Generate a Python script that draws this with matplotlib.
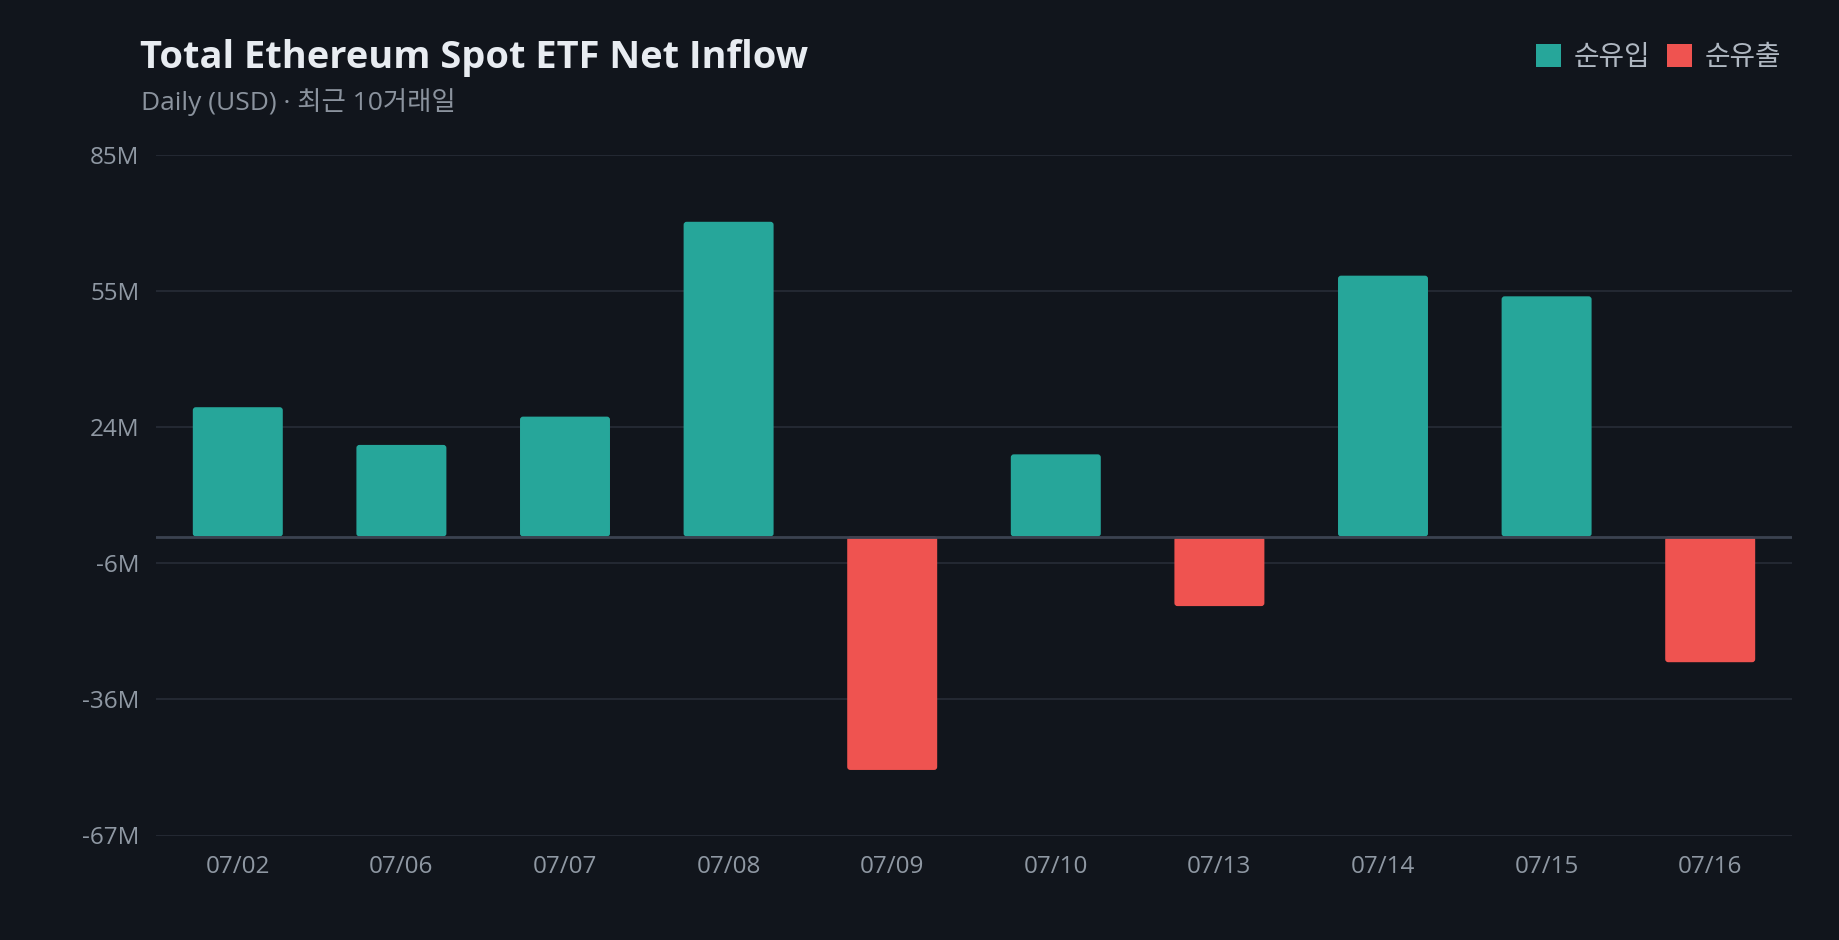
import matplotlib
matplotlib.use("Agg")
import matplotlib.pyplot as plt
from matplotlib.patches import FancyBboxPatch, Patch
import numpy as np

# ---- data ----
dates = ["07/02", "07/06", "07/07", "07/08", "07/09", "07/10", "07/13", "07/14", "07/15", "07/16"]
net_flow_m = [28.8, 20.4, 26.7, 70.1, -52.0, 18.3, -15.5, 58.1, 53.5, -28.0]
y_min, y_max = -66.6, 85.0
title = "Total Ethereum Spot ETF Net Inflow"
subtitle = "Daily (USD) · 최근 10거래일"
legend_labels = ["순유입", "순유출"]

# ---- style ----
BG = "#11151c"
TEAL = "#26a69a"
RED = "#ef5350"
GRID = "#262b35"
ZERO = "#3b4250"
TICK = "#8f98a3"
LATIN = "Open Sans"
CJK = "Noto Sans CJK KR"
FAM = [LATIN, CJK, "DejaVu Sans"]
plt.rcParams["font.family"] = FAM

W, H, DPI = 1840, 940, 100
fig = plt.figure(figsize=(W / DPI, H / DPI), dpi=DPI, facecolor=BG)
left, right = 156 / W, 1792 / W
top, bottom = 1 - 154.9 / H, 1 - 835.5 / H
ax = fig.add_axes([left, bottom, right - left, top - bottom], facecolor=BG)

x = np.arange(len(dates))
colors = [TEAL if v >= 0 else RED for v in net_flow_m]
bars = ax.bar(x, net_flow_m, width=0.55, color=colors, zorder=3)

ax.set_xlim(-0.5, len(dates) - 0.5)
ax.set_ylim(y_min, y_max)

# rounded corners for bars
ax_w_px = (right - left) * W
ax_h_px = (top - bottom) * H
px_per_x = ax_w_px / (len(dates))
px_per_y = ax_h_px / (y_max - y_min)
aspect = px_per_x / px_per_y
r_px = 3.0
for b in bars:
    bx, by = b.get_xy()
    bw, bh = b.get_width(), b.get_height()
    if bh < 0:
        by, bh = by + bh, -bh
    p = FancyBboxPatch((bx, by), bw, bh,
                       boxstyle=f"round,pad=0,rounding_size={r_px / px_per_x}",
                       mutation_aspect=aspect,
                       facecolor=b.get_facecolor(), edgecolor="none", zorder=3)
    b.set_visible(False)
    ax.add_patch(p)

# y ticks
yt = np.linspace(y_min, y_max, 6)
ax.set_yticks(yt)
ax.set_yticklabels([f"{int(round(v))}M" for v in yt])
ax.grid(axis="y", color=GRID, linewidth=1.3, zorder=0)
ax.grid(axis="x", visible=False)
ax.axhline(0, color=ZERO, linewidth=2.0, zorder=4)

ax.set_xticks(x)
ax.set_xticklabels(dates)
ax.tick_params(axis="both", length=0, colors=TICK, labelsize=17.5)
ax.tick_params(axis="x", pad=14)
ax.tick_params(axis="y", pad=12)
for sp in ax.spines.values():
    sp.set_visible(False)

# titles
fig.text(140 / W, 1 - 68.3 / H, title, fontsize=27.4, fontweight="bold",
         color="#e8ecf1", ha="left", va="baseline", family=FAM)
fig.text(141 / W, 1 - 110 / H, subtitle, fontsize=19, color="#8b939e",
         ha="left", va="baseline", family=FAM)

# legend
handles = [Patch(facecolor=TEAL, edgecolor="none"), Patch(facecolor=RED, edgecolor="none")]
leg = fig.legend(handles, legend_labels, loc="upper right",
                 bbox_to_anchor=(1781 / W, 1 - 44 / H), ncol=2, frameon=False,
                 handlelength=0.9, handleheight=0.9, handletextpad=0.45,
                 columnspacing=0.6, borderaxespad=0, borderpad=0,
                 prop={"family": FAM, "size": 20})
for t in leg.get_texts():
    t.set_color("#b0b8c2")

fig.savefig("out.png", dpi=DPI, facecolor=BG)
